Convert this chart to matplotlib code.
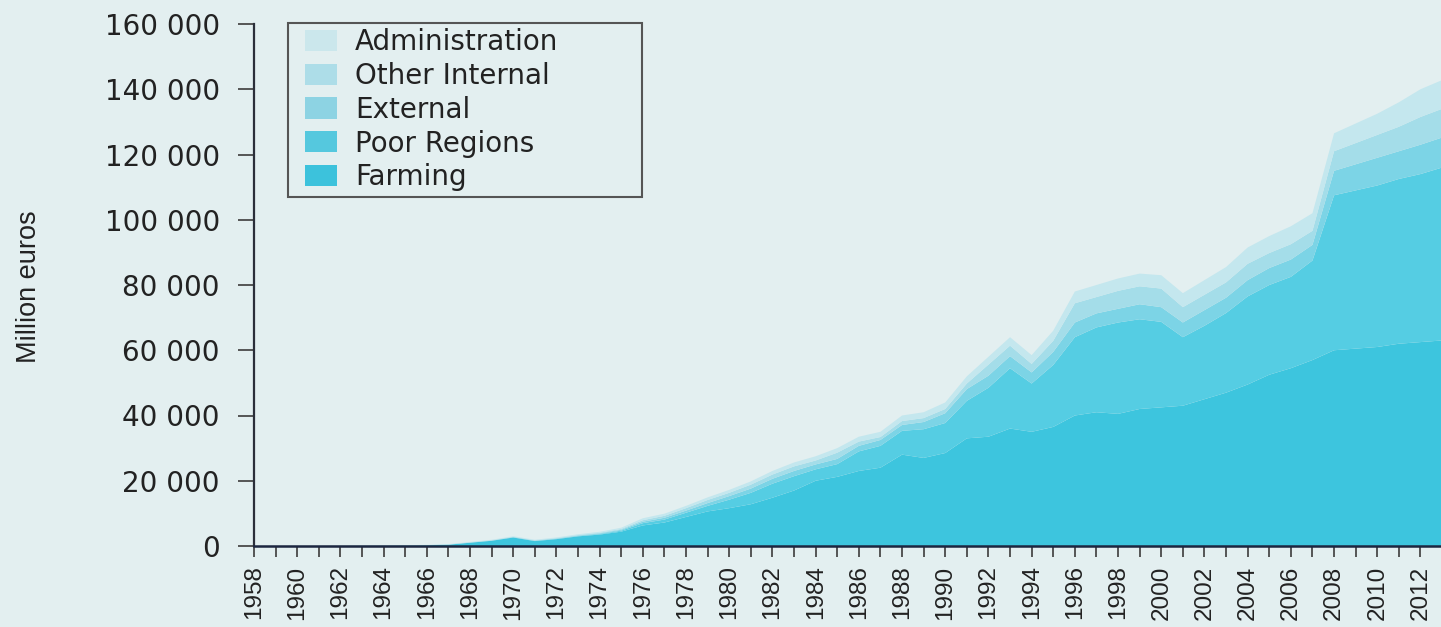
import matplotlib
matplotlib.use("Agg")
import matplotlib.pyplot as plt
import matplotlib.ticker as mticker
from matplotlib import font_manager
from matplotlib.patches import Patch, Rectangle

# ---------------- data (million euros) ----------------
years = list(range(1958, 2014))

farming = [0, 0, 0, 0, 10, 30, 60, 120, 200,
           400, 1000, 1600, 2600, 1500, 2100, 2950, 3500, 4400, 6300,
           7200, 8900, 10600, 11600, 12800, 14800, 17000, 20000, 21200, 23000,
           24000, 28000, 27000, 28500, 33000, 33500, 36000, 35000, 36500, 40000,
           41000, 40500, 42000, 42500, 43000, 45000, 47000, 49500, 52500, 54500,
           57000, 60000, 60500, 61000, 62000, 62500, 63000]
poor_regions = [0, 2, 5, 8, 10, 12, 15, 18, 20,
                20, 30, 40, 60, 70, 80, 100, 150, 300, 700,
                900, 1300, 1700, 2600, 3500, 4300, 4400, 3500, 3900, 6000,
                6700, 7300, 8800, 9200, 11500, 15000, 18500, 14800, 19000, 24000,
                26000, 28000, 27500, 26200, 21000, 22500, 24400, 27000, 27500, 28000,
                30500, 47500, 48500, 49500, 50500, 51500, 53000]
external = [0, 0, 0, 0, 5, 5, 10, 10, 15,
            20, 40, 50, 60, 70, 100, 150, 200, 280, 450,
            550, 650, 850, 1100, 1300, 1500, 1600, 1500, 1600, 1700,
            1800, 1800, 2200, 3000, 3600, 3700, 3700, 3400, 4000, 4500,
            4300, 4200, 4600, 4500, 4500, 4800, 4700, 5000, 5200, 5300,
            4800, 7500, 8000, 8500, 8500, 9000, 9200]
other_internal = [0, 5, 10, 15, 20, 25, 30, 35, 40,
                  40, 60, 80, 100, 110, 130, 160, 200, 250, 450,
                  600, 750, 950, 1000, 1200, 1300, 1400, 1200, 1900, 1300,
                  900, 1200, 1200, 1300, 1700, 3400, 3200, 2600, 3400, 5900,
                  5000, 5500, 5500, 5700, 4700, 4700, 4700, 5000, 4600, 4700,
                  4300, 6000, 6500, 7000, 7500, 8500, 8800]
administration = [10, 20, 25, 30, 40, 50, 60, 70, 80,
                   100, 120, 140, 160, 170, 200, 240, 300, 370, 600,
                   650, 700, 800, 900, 1000, 1100, 1200, 1300, 1400, 1500,
                   1600, 1700, 1800, 2000, 2200, 2400, 2600, 2700, 3100, 3600,
                   3700, 3800, 3900, 4100, 4300, 4500, 4700, 5000, 5200, 5500,
                   5400, 5500, 6000, 6500, 7500, 8500, 8800]

series_labels = ["Farming", "Poor Regions", "External", "Other Internal", "Administration"]
series_colors = ["#3dc5de", "#55cde3", "#7cd4e6", "#a4dde9", "#c4e7ee"]
legend_colors = ["#3cc2dc", "#55c8de", "#8dd3e3", "#addde8", "#cbe7ec"]

y_ticks = [0, 20000, 40000, 60000, 80000, 100000, 120000, 140000, 160000]
x_label_years = list(range(1958, 2013, 2))

# ---------------- fonts ----------------
def has_font(name):
    try:
        font_manager.findfont(font_manager.FontProperties(family=name),
                              fallback_to_default=False)
        return True
    except Exception:
        return False

if has_font("Liberation Sans Narrow"):
    narrow, year_size, ylab_size = "Liberation Sans Narrow", 21, 23
else:
    narrow, year_size, ylab_size = "Liberation Sans", 17.5, 19.5
wide = "DejaVu Sans"

bg = "#e3eff0"
ink = "#222222"

W, H = 1441, 627
fig = plt.figure(figsize=(W / 100, H / 100), dpi=100, facecolor=bg)
ax_l, ax_b, ax_w, ax_h = 254, 81, 1187, 522   # pixels (from bottom-left)
ax = fig.add_axes([ax_l / W, ax_b / H, ax_w / W, ax_h / H])
ax.set_facecolor(bg)

def px_to_axes(x, y_top):
    """pixel position (x from left, y from top) -> axes fraction"""
    return (x - ax_l) / ax_w, (H - y_top - ax_b) / ax_h

ax.stackplot(years, farming, poor_regions, external, other_internal,
             administration, colors=series_colors, labels=series_labels,
             linewidth=0)

ax.set_xlim(1958, 2012.95)
ax.set_ylim(0, 160000)

for s in ["top", "right"]:
    ax.spines[s].set_visible(False)
ax.spines["left"].set_color("#2b2f3a")
ax.spines["left"].set_linewidth(1.6)
ax.spines["bottom"].set_color("#1c2640")
ax.spines["bottom"].set_linewidth(1.8)
ax.spines["bottom"].set_zorder(5)

ax.set_yticks(y_ticks)
ax.yaxis.set_major_formatter(mticker.FuncFormatter(
    lambda v, p: f"{int(v):,}".replace(",", " ")))
ax.tick_params(axis="y", direction="out", length=11.5, width=1.4,
               color="#555555", pad=13, labelsize=20, labelcolor=ink)
for lab in ax.get_yticklabels():
    lab.set_fontfamily(wide)

ax.set_xticks(x_label_years)
ax.set_xticks(years[:-1], minor=True)
ax.set_xticklabels([str(y) for y in x_label_years], rotation=90,
                   fontfamily=narrow, fontsize=year_size, color=ink)
ax.tick_params(axis="x", which="both", direction="out", length=8, width=1.4,
               color="#555555")
ax.tick_params(axis="x", which="major", pad=6)

ax.set_ylabel("Million euros", fontfamily=narrow, fontsize=ylab_size, color=ink,
              labelpad=0)
lx, ly = px_to_axes(42, 287)
ax.yaxis.set_label_coords(lx, ly)

# legend frame drawn separately, entries placed inside it
fx0, fy0 = px_to_axes(288, 197)
fx1, fy1 = px_to_axes(642, 23)
frame = Rectangle((fx0, fy0), fx1 - fx0, fy1 - fy0, transform=ax.transAxes,
                  facecolor=bg, edgecolor="#555555", linewidth=1.5,
                  zorder=6, clip_on=False)
ax.add_patch(frame)

handles = [Patch(facecolor=c, edgecolor="none") for c in legend_colors]
order = [4, 3, 2, 1, 0]
anchor = px_to_axes(305, 28)
leg = ax.legend([handles[i] for i in order], [series_labels[i] for i in order],
                loc="upper left", bbox_to_anchor=anchor,
                borderaxespad=0, borderpad=0, frameon=False,
                prop={"family": wide, "size": 20},
                handlelength=1.15, handleheight=0.79, handletextpad=0.65,
                labelspacing=0.21, labelcolor=ink)
leg.set_zorder(7)

fig.savefig("out.png", dpi=100, facecolor=bg)
